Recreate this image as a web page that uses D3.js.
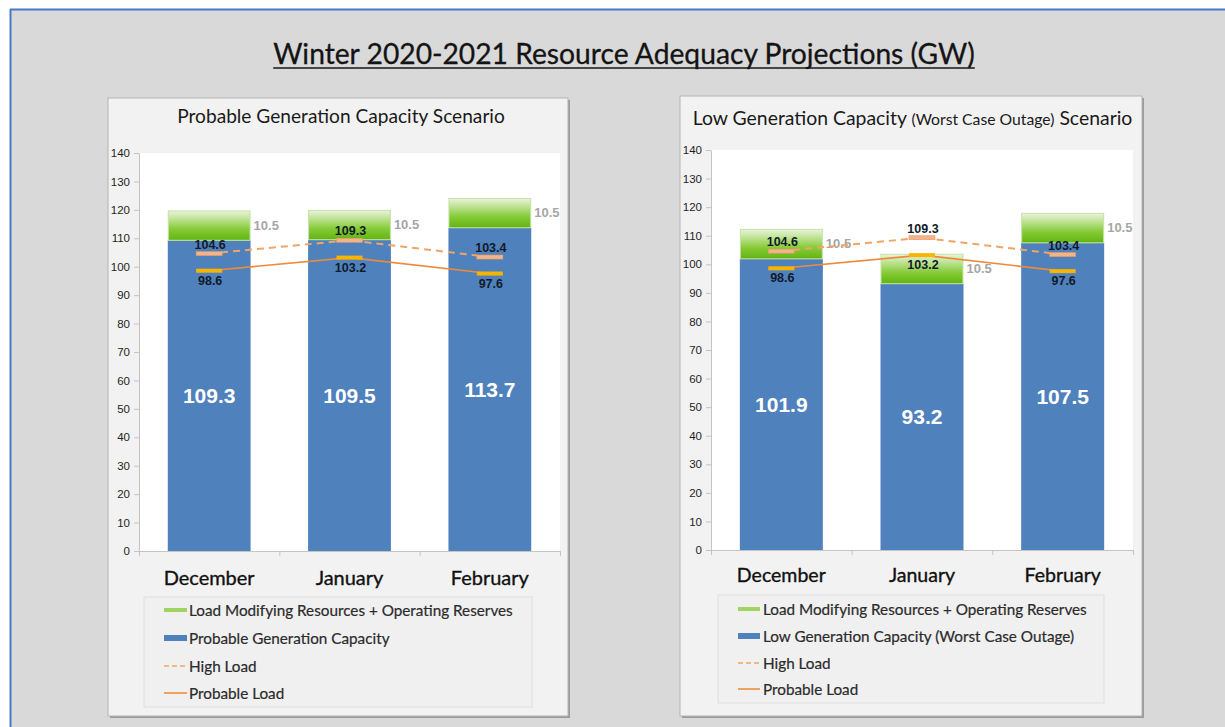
<!DOCTYPE html>
<html>
<head>
<meta charset="utf-8">
<script src="https://cdn.jsdelivr.net/npm/d3@7"></script>
<style>
  html, body { margin: 0; padding: 0; background: #ffffff; }
  svg { display: block; }
</style>
</head>
<body>
<svg id="chart" width="1225" height="727"></svg>
<script>
// ---------------- DATA ----------------
const months = ["December", "January", "February"];
const probableCapacity = [109.3, 109.5, 113.7];
const lowCapacity = [101.9, 93.2, 107.5];
const lmrReserves = [10.5, 10.5, 10.5];
const highLoad = [104.6, 109.3, 103.4];
const probableLoad = [98.6, 103.2, 97.6];
const yTickValues = [0, 10, 20, 30, 40, 50, 60, 70, 80, 90, 100, 110, 120, 130, 140];
const mainTitle = "Winter 2020-2021 Resource Adequacy Projections (GW)";
const legendGreen = "Load Modifying Resources + Operating Reserves";
const legendHigh = "High Load";
const legendProbable = "Probable Load";

// ---------------- HELPERS ----------------
const svg = d3.select("#chart");
function fitFont(sel, targetWidth, startSize) {
  sel.style("font-size", startSize + "px");
  const w = sel.node().getComputedTextLength();
  const s = startSize * targetWidth / w;
  sel.style("font-size", s + "px");
  return s;
}

// background + frame
svg.append("rect").attr("x", 0).attr("y", 0).attr("width", 1225).attr("height", 727).attr("fill", "#ffffff");
svg.append("rect").attr("x", 10).attr("y", 9).attr("width", 1215).attr("height", 718).attr("fill", "#d9d9d9");
svg.append("line").attr("x1", 10).attr("x2", 1225).attr("y1", 9.5).attr("y2", 9.5).attr("stroke", "#4a78c8").attr("stroke-width", 2);
svg.append("line").attr("x1", 10.5).attr("x2", 10.5).attr("y1", 9).attr("y2", 727).attr("stroke", "#4a78c8").attr("stroke-width", 2);

// main title
const mt = svg.append("text")
  .attr("x", 624).attr("y", 64)
  .attr("text-anchor", "middle")
  .style("font-family", "Lato, 'Open Sans', sans-serif")
  .style("fill", "#141414")
  .style("stroke", "#141414").style("stroke-width", 0.3)
  .text(mainTitle);
fitFont(mt, 702, 28);
const mtw = mt.node().getComputedTextLength();
svg.append("line").attr("x1", 624 - mtw / 2).attr("x2", 624 + mtw / 2)
  .attr("y1", 68).attr("y2", 68).attr("stroke", "#141414").attr("stroke-width", 1.5);

// gradient for green segments
const defs = svg.append("defs");
const grad = defs.append("linearGradient").attr("id", "greenGrad")
  .attr("x1", 0).attr("x2", 0).attr("y1", 0).attr("y2", 1);
grad.append("stop").attr("offset", "0%").attr("stop-color", "#e8f4dc");
grad.append("stop").attr("offset", "22%").attr("stop-color", "#c8e6a2");
grad.append("stop").attr("offset", "62%").attr("stop-color", "#86cb38");
grad.append("stop").attr("offset", "100%").attr("stop-color", "#62b410");

function drawPanel(cfg) {
  const g = svg.append("g");
  const [bx0, by0, bx1, by1] = cfg.box;
  // shadow + panel
  g.append("rect").attr("x", bx0 + 2).attr("y", by0 + 2).attr("width", bx1 - bx0).attr("height", by1 - by0).attr("fill", "#9b9b9b");
  g.append("rect").attr("x", bx0).attr("y", by0).attr("width", bx1 - bx0).attr("height", by1 - by0)
    .attr("fill", "#f2f2f2").attr("stroke", "#b4b4b4").attr("stroke-width", 1);

  // title
  const tt = g.append("text").attr("x", cfg.titleX).attr("y", cfg.titleY).attr("text-anchor", "middle")
    .style("font-family", "Lato, 'Open Sans', sans-serif").style("fill", "#1a1a1a");
  const parts = cfg.titleParts;
  const spans = parts.map(p => tt.append("tspan").text(p.t).style("font-size", p.s + "px"));
  const w0 = tt.node().getComputedTextLength();
  const k = cfg.titleWidth / w0;
  spans.forEach((sp, i) => sp.style("font-size", (parts[i].s * k) + "px"));

  const p = cfg.plot;
  // plot area
  g.append("rect").attr("x", p.x0).attr("y", p.y0).attr("width", p.x1 - p.x0).attr("height", p.y1 - p.y0).attr("fill", "#ffffff");

  const y = d3.scaleLinear().domain([0, 140]).range([p.y1, p.y0]);
  const x = d3.scaleBand().domain(months).range([p.x0, p.x1]).paddingInner(0.41).paddingOuter(0.205);
  const xEdge = d3.scaleLinear().domain([0, months.length]).range([p.x0, p.x1]);

  // y axis
  const ya = g.append("g").attr("transform", `translate(${p.x0},0)`)
    .call(d3.axisLeft(y).tickValues(yTickValues).tickSize(5).tickSizeOuter(0).tickPadding(4));
  ya.select(".domain").attr("stroke", "#c4c4c4");
  ya.selectAll(".tick line").attr("stroke", "#c4c4c4");
  ya.selectAll(".tick text").style("font-family", "'Liberation Sans', Arial, sans-serif")
    .style("font-size", "11.5px").style("fill", "#1f1f1f");

  // x axis (edges)
  const xa = g.append("g").attr("transform", `translate(0,${p.y1})`)
    .call(d3.axisBottom(xEdge).tickValues(d3.range(months.length + 1)).tickFormat("").tickSize(5).tickSizeOuter(0));
  xa.select(".domain").attr("stroke", "#c4c4c4");
  xa.selectAll(".tick line").attr("stroke", "#c4c4c4");

  const blue = cfg.blue;
  // blue bars
  g.selectAll(".bb").data(months).enter().append("rect")
    .attr("x", d => x(d)).attr("width", x.bandwidth())
    .attr("y", (d, i) => y(blue[i])).attr("height", (d, i) => y(0) - y(blue[i]))
    .attr("fill", "#4f81bd");
  // green bars
  g.selectAll(".gb").data(months).enter().append("rect")
    .attr("x", d => x(d) + 0.5).attr("width", x.bandwidth() - 1)
    .attr("y", (d, i) => y(blue[i] + lmrReserves[i]) + 0.5)
    .attr("height", (d, i) => y(blue[i]) - y(blue[i] + lmrReserves[i]) - 0.5)
    .attr("fill", "url(#greenGrad)").attr("stroke", "#c6e2a6").attr("stroke-width", 1);

  // big labels in blue bars
  g.selectAll(".bl").data(months).enter().append("text")
    .attr("x", d => x(d) + x.bandwidth() / 2)
    .attr("y", (d, i) => y(blue[i] / 2))
    .attr("text-anchor", "middle").attr("dominant-baseline", "central")
    .style("font-family", "'Liberation Sans', Arial, sans-serif").style("font-weight", "bold")
    .style("font-size", "21px").style("fill", "#ffffff")
    .text((d, i) => blue[i].toFixed(1));

  // green labels
  g.selectAll(".gl").data(months).enter().append("text")
    .attr("x", d => x(d) + x.bandwidth() + 3)
    .attr("y", (d, i) => y(blue[i] + lmrReserves[i] / 2))
    .attr("dominant-baseline", "central")
    .style("font-family", "'Liberation Sans', Arial, sans-serif").style("font-weight", "bold")
    .style("font-size", "13px").style("fill", "#a6a6a6")
    .text((d, i) => lmrReserves[i].toFixed(1));

  const cx = d => x(d) + x.bandwidth() / 2;
  // lines
  const line = d3.line().x((d, i) => cx(months[i])).y(d => y(d));
  g.append("path").datum(highLoad).attr("d", line).attr("fill", "none")
    .attr("stroke", "#f0a466").attr("stroke-width", 2).attr("stroke-dasharray", "7,5");
  g.append("path").datum(probableLoad).attr("d", line).attr("fill", "none")
    .attr("stroke", "#ec8a3c").attr("stroke-width", 1.6);

  // markers
  g.selectAll(".hm").data(months).enter().append("rect")
    .attr("x", d => cx(d) - 13).attr("width", 26)
    .attr("y", (d, i) => y(highLoad[i]) - 2).attr("height", 4)
    .attr("fill", "#f2b48a").attr("stroke", "#e89a66").attr("stroke-width", 0.6);
  g.selectAll(".pm").data(months).enter().append("rect")
    .attr("x", d => cx(d) - 13).attr("width", 26)
    .attr("y", (d, i) => y(probableLoad[i]) - 2).attr("height", 4)
    .attr("fill", "#f8b500");

  // load labels
  const lblStyle = s => s.style("font-family", "'Liberation Sans', Arial, sans-serif").style("font-weight", "bold")
    .style("font-size", "12.5px").style("fill", "#111a2a").attr("text-anchor", "middle").attr("dominant-baseline", "central");
  g.selectAll(".hl").data(months).enter().append("text")
    .attr("x", d => cx(d) + 1).attr("y", (d, i) => y(highLoad[i]) - 9)
    .call(lblStyle).text((d, i) => highLoad[i].toFixed(1));
  g.selectAll(".pl").data(months).enter().append("text")
    .attr("x", d => cx(d) + 1).attr("y", (d, i) => y(probableLoad[i]) + 10)
    .call(lblStyle).text((d, i) => probableLoad[i].toFixed(1));

  // x labels
  const xl = g.selectAll(".xl").data(months).enter().append("text")
    .attr("x", d => cx(d)).attr("y", cfg.xLabelY)
    .attr("text-anchor", "middle").attr("dominant-baseline", "central")
    .style("font-family", "Lato, 'Open Sans', sans-serif").style("fill", "#111111")
    .style("stroke", "#111111").style("stroke-width", 0.35)
    .text(d => d);
  const decSel = xl.filter(d => d === "December");
  const xs = fitFont(decSel, cfg.decWidth, 19);
  xl.style("font-size", xs + "px");

  // legend
  const L = cfg.legend;
  g.append("rect").attr("x", L.x).attr("y", L.y).attr("width", L.w).attr("height", L.h)
    .attr("fill", "#f0f0f0").attr("stroke", "#dedede");
  const items = [
    { name: legendGreen, type: "green" },
    { name: cfg.blueName, type: "blue" },
    { name: legendHigh, type: "dash" },
    { name: legendProbable, type: "solid" }
  ];
  items.forEach((it, i) => {
    const ry = L.rows[i];
    if (it.type === "green") {
      g.append("rect").attr("x", L.swX).attr("y", ry - 2).attr("width", L.swW).attr("height", 4).attr("fill", "#9fd460");
    } else if (it.type === "blue") {
      g.append("rect").attr("x", L.swX).attr("y", ry - 3).attr("width", L.swW).attr("height", 6).attr("fill", "#4f81bd");
    } else if (it.type === "dash") {
      g.append("line").attr("x1", L.swX).attr("x2", L.swX + L.swW).attr("y1", ry).attr("y2", ry)
        .attr("stroke", "#f0a466").attr("stroke-width", 1.6).attr("stroke-dasharray", "5,3");
    } else {
      g.append("line").attr("x1", L.swX).attr("x2", L.swX + L.swW).attr("y1", ry).attr("y2", ry)
        .attr("stroke", "#ec9a4c").attr("stroke-width", 1.8);
    }
  });
  const lt = g.selectAll(".lt").data(items).enter().append("text")
    .attr("x", L.textX).attr("y", (d, i) => L.rows[i])
    .attr("dominant-baseline", "central")
    .style("font-family", "Lato, 'Open Sans', sans-serif").style("fill", "#2b2b2b")
    .style("stroke", "#2b2b2b").style("stroke-width", 0.2)
    .text(d => d.name);
  const ls = fitFont(lt.filter((d, i) => i === 0), L.firstWidth, 14);
  lt.style("font-size", ls + "px");
}

drawPanel({
  box: [108, 98, 568, 716],
  titleX: 341, titleY: 123, titleWidth: 328,
  titleParts: [{ t: "Probable Generation Capacity Scenario", s: 18 }],
  plot: { x0: 139, x1: 560, y0: 153, y1: 551 },
  blue: probableCapacity,
  blueName: "Probable Generation Capacity",
  xLabelY: 577, decWidth: 91,
  legend: { x: 144, y: 597, w: 388, h: 110, rows: [610, 638, 666, 693], swX: 164, swW: 23, textX: 189, firstWidth: 324 }
});

drawPanel({
  box: [680, 96, 1142, 716],
  titleX: 912.5, titleY: 125, titleWidth: 440,
  titleParts: [
    { t: "Low Generation Capacity ", s: 18.5 },
    { t: "(Worst Case Outage)", s: 15 },
    { t: " Scenario", s: 18.5 }
  ],
  plot: { x0: 711, x1: 1133, y0: 150, y1: 550 },
  blue: lowCapacity,
  blueName: "Low Generation Capacity (Worst Case Outage)",
  xLabelY: 574, decWidth: 89,
  legend: { x: 718, y: 595, w: 386, h: 108, rows: [609, 636, 663, 689], swX: 738, swW: 22, textX: 763, firstWidth: 324 }
});
</script>
</body>
</html>
